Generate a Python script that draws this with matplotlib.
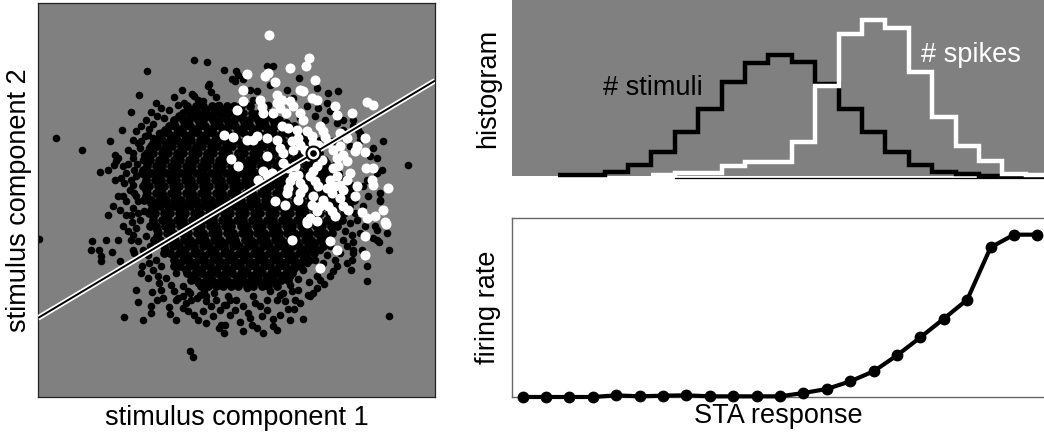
import matplotlib
matplotlib.use("Agg")
import matplotlib.pyplot as plt

plt.rcParams['font.family'] = ['Liberation Sans', 'DejaVu Sans']

# ---------------- scatter data (stimulus component 1 / 2, arbitrary units) -------------
# dense core of the black cloud, one row per component-2 value
black_core_rows = {
    280: [-137, -110, -90, -64, -45, -18, 4, 24, 50],
    260: [-150, -131, -104, -87, -58, -40, -12, 10, 29, 55, 76, 99],
    240: [-177, -151, -133, -106, -89, -61, -43, -17, 3, 29, 48, 74, 93, 120, 136],
    220: [-193, -174, -148, -130, -102, -85, -58, -39, -14, 6, 33, 50, 77, 96, 123, 141, 168, 182],
    200: [-214, -196, -168, -150, -124, -105, -79, -60, -33, -15, 11, 31, 57, 74, 102, 120, 147, 165, 192],
    180: [-233, -214, -188, -169, -143, -125, -98, -80, -53, -34, -8, 11, 37, 55, 82, 101, 128, 146, 172, 191, 217],
    160: [-246, -228, -201, -182, -157, -138, -111, -92, -66, -48, -21, -2, 24, 43, 69, 88, 114, 133, 159, 178, 204, 223, 242],
    140: [-258, -239, -212, -194, -168, -149, -123, -104, -78, -59, -32, -14, 13, 31, 58, 76, 103, 121, 148, 166, 193, 211, 238, 256],
    120: [-248, -222, -203, -177, -158, -132, -113, -87, -68, -42, -23, 3, 22, 48, 67, 93, 112, 138, 157, 183, 202, 228, 247, 273],
    100: [-259, -232, -214, -187, -169, -142, -124, -97, -79, -52, -34, -7, 11, 38, 56, 83, 101, 128, 146, 173, 191, 218, 236, 263, 281, 302],
    80: [-272, -246, -227, -201, -182, -156, -137, -111, -92, -66, -47, -21, -2, 24, 43, 69, 88, 114, 133, 159, 178, 204, 223, 249, 268, 294, 313],
    60: [-260, -234, -215, -189, -170, -144, -125, -99, -80, -54, -35, -9, 10, 36, 55, 81, 100, 126, 145, 171, 190, 216, 235, 261, 280, 306, 325, 342],
    40: [-270, -251, -225, -206, -180, -161, -135, -116, -90, -71, -45, -26, 0, 19, 45, 64, 90, 109, 135, 154, 180, 199, 225, 244, 270, 289, 315, 334, 352],
    20: [-258, -231, -213, -186, -168, -141, -123, -96, -78, -51, -33, -6, 12, 39, 57, 84, 102, 129, 147, 174, 192, 219, 237, 264, 282, 309, 327, 354],
    0: [-266, -247, -221, -202, -176, -157, -131, -112, -86, -67, -41, -22, 4, 23, 49, 68, 94, 113, 139, 158, 184, 203, 229, 248, 274, 293, 319, 338, 362],
    -20: [-238, -219, -193, -174, -148, -129, -103, -84, -58, -39, -13, 6, 32, 51, 77, 96, 122, 141, 167, 186, 212, 231, 257, 276, 302, 321, 347],
    -40: [-253, -235, -208, -190, -163, -145, -118, -100, -73, -55, -28, -10, 17, 35, 62, 80, 107, 125, 152, 170, 197, 215, 242, 260, 287, 305, 332],
    -60: [-240, -213, -195, -168, -150, -123, -105, -78, -60, -33, -15, 12, 30, 57, 75, 102, 120, 147, 165, 192, 210, 237, 255, 282, 300, 327],
    -80: [-248, -230, -203, -185, -158, -140, -113, -95, -68, -50, -23, -5, 22, 40, 67, 85, 112, 130, 157, 175, 202, 220, 247, 265, 292, 310],
    -100: [-224, -198, -179, -153, -134, -108, -89, -63, -44, -18, 1, 27, 46, 72, 91, 117, 136, 162, 181, 207, 226, 252, 271, 297],
    -120: [-236, -218, -191, -173, -146, -128, -101, -83, -56, -38, -11, 7, 34, 52, 79, 97, 124, 142, 169, 187, 214, 232, 259, 277],
    -140: [-207, -181, -162, -136, -117, -91, -72, -46, -27, -1, 18, 44, 63, 89, 108, 134, 153, 179, 198, 224, 243, 269],
    -160: [-208, -190, -163, -145, -118, -100, -73, -55, -28, -10, 17, 35, 62, 80, 107, 125, 152, 170, 197, 215, 242],
    -180: [-177, -151, -132, -106, -87, -61, -42, -16, 3, 29, 48, 74, 93, 119, 138, 164, 183, 209, 228],
    -200: [-178, -160, -133, -115, -88, -70, -43, -25, 2, 20, 47, 65, 92, 110, 137, 155, 182, 200],
    -220: [-139, -113, -94, -68, -49, -23, -4, 22, 41, 67, 86, 112, 131, 157, 176],
    -240: [-126, -107, -81, -62, -36, -17, 9, 28, 54, 73, 99, 118, 144, 163],
    -260: [-95, -76, -50, -31, -5, 14, 40, 59, 85, 104, 130],
}

# in-between rows of the dense core
black_core_rows_b = {
    270: [-122, -80, -27, 12],
    250: [-163, -115, -74, -22, 18, 66, 107],
    230: [-181, -143, -92, -50, 0, 40, 91, 132, 158],
    210: [-203, -155, -116, -67, -25, 24, 64, 114, 153, 184],
    190: [-219, -182, -131, -93, -41, -1, 49, 88, 140, 178, 207],
    170: [-241, -193, -153, -100, -62, -10, 30, 82, 121, 172, 210],
    150: [-247, -207, -157, -118, -66, -27, 25, 64, 115, 153, 204, 244],
    130: [-258, -207, -169, -117, -78, -27, 13, 65, 105, 154, 193, 243],
    110: [-259, -223, -172, -133, -81, -43, 9, 47, 98, 137, 188, 227, 278],
    90: [-271, -219, -181, -131, -91, -40, -1, 50, 88, 140, 179, 232, 270, 299],
    70: [-262, -223, -173, -134, -83, -44, 7, 45, 96, 136, 186, 225, 276, 315],
    50: [-265, -215, -176, -125, -86, -35, 4, 55, 94, 145, 184, 235, 274, 325],
    30: [-261, -223, -172, -133, -82, -43, 8, 47, 99, 138, 189, 228, 279, 318],
    10: [-260, -210, -171, -120, -81, -30, 9, 60, 99, 150, 189, 240, 279, 331],
    -10: [-247, -209, -158, -119, -68, -29, 22, 61, 112, 151, 202, 241, 292, 330],
    -30: [-247, -196, -157, -106, -67, -16, 23, 74, 113, 164, 203, 254, 293],
    -50: [-240, -201, -150, -111, -60, -21, 30, 69, 120, 159, 210, 249, 300],
    -70: [-241, -190, -151, -100, -61, -10, 29, 80, 119, 170, 209, 260, 299],
    -90: [-229, -190, -139, -100, -49, -10, 41, 80, 131, 170, 221, 260],
    -110: [-227, -176, -137, -86, -47, 4, 43, 94, 133, 184, 223, 274],
    -130: [-209, -170, -119, -80, -29, 10, 61, 100, 151, 190, 241],
    -150: [-203, -152, -113, -62, -23, 28, 67, 118, 157, 208, 237],
    -170: [-177, -138, -87, -48, 3, 42, 93, 132, 183, 217],
    -190: [-168, -117, -78, -27, 12, 63, 102, 153, 192],
    -210: [-142, -103, -52, -13, 38, 77, 128, 167],
    -230: [-123, -72, -33, 18, 57, 108, 147],
    -250: [-98, -47, -8, 43, 82, 128],
}

# sparser black points around the core
black_fringe = [
    (-116, 418), (-78, 412), (-26, 390), (9, 385), (-259, 387), (-4, 362), (-71, 348), (-76, 340),
    (-154, 330), (-283, 313), (-66, 322), (-124, 317), (-118, 310), (-176, 307), (-50, 307),
    (-106, 300), (-89, 295), (-166, 285), (-146, 290), (-41, 285), (-306, 263), (-191, 270),
    (-138, 262), (-206, 245), (-333, 209), (-370, 175), (-530, 186), (-454, 150), (-399, 83),
    (-376, 90), (-353, 135), (-346, 125), (-351, 115), (-358, 105), (-331, 100), (-316, 108),
    (-296, 90), (-286, 170), (-276, 175), (-256, 195), (-221, 200), (-253, 155), (-266, 135),
    (-289, 108), (-354, 60), (-336, 65), (-328, 50), (-346, 10), (-331, 10), (-296, 20),
    (-291, 10), (-361, -18), (-376, -45), (-321, -45), (-306, -45), (-286, -40), (-268, -35),
    (-303, -68), (-290, 70), (-300, 45), (-310, 30), (-285, -5), (-300, -25), (-280, -60),
    (-290, -85), (-581, -118), (-424, -125), (-426, -152), (-401, -152), (-396, -170),
    (-396, -185), (-381, -122), (-346, -120), (-363, -157), (-338, -185), (-326, -352),
    (-271, -362), (-306, -120), (-301, -150), (-296, -160), (-291, -270), (-284, -307),
    (-274, -200), (-276, -220), (-256, -235), (-244, -278), (-246, -320), (-246, -340),
    (-226, -230), (-221, -250), (-216, -270), (-228, -300), (-211, -295), (-191, -322),
    (-188, -343), (-166, -295), (-151, -325), (-136, -335), (-126, -300), (-116, -345),
    (-106, -360), (-108, -295), (-88, -273), (-128, -453), (-120, -472), (-41, -385),
    (-26, -400), (-36, -375), (-56, -280), (-51, -300), (-48, -255), (-26, -315), (-16, -290),
    (-251, -190), (-241, -210), (-231, -180), (-256, -165), (-216, -200), (-201, -235),
    (-186, -255), (-171, -220), (-151, -260), (-136, -275), (-106, -250), (-81, -305),
    (-66, -320), (-91, -335), (-176, -275),
    (468, -350), (402, -243), (467, -150), (438, -128), (353, -212), (355, -182), (305, -180),
    (360, -128), (395, -78), (335, -95), (355, -105), (340, -140), (260, -240), (272, -252),
    (228, -248), (250, -265), (240, -280), (230, -288), (210, -357), (225, -285), (195, -238),
    (182, -208), (170, -230), (170, -255), (175, -275), (195, -270), (155, -305), (165, -328),
    (182, -328), (170, -360), (120, -358), (140, -345), (130, -390), (120, -380), (70, -385),
    (55, -375), (20, -368), (-25, -375), (100, -300), (110, -275), (80, -320), (45, -340),
    (50, -355), (5, -330), (-20, -315), (-10, -300), (210, -210), (220, -190), (250, -230),
    (280, -165), (290, -140), (260, -150), (245, -180), (20, -250), (40, -265), (60, -290),
    (90, -250), (120, -235), (140, -285),
    (15, 375), (5, 355), (30, 362), (100, 402), (120, 400), (197, 365), (315, 327), (450, 177),
    (525, 103), (50, 330), (70, 325), (110, 345), (160, 330), (180, 305), (250, 335), (285, 320),
    (255, 275), (280, 290), (330, 240), (360, 240), (380, 195), (375, 210), (420, 155),
    (430, 125), (445, 90), (400, 60), (390, 40), (440, -5), (425, -80), (360, -150), (370, -60),
    (430, -120), (360, 220), (380, 200), (410, 130), (430, 80), (440, 0), (430, -90), (380, -100),
    (360, 0), (390, -20), (375, 40), (405, 10), (380, 180), (440, 20), (460, -100), (420, -115),
    (360, -160), (340, -190), (310, -200), (290, -230),
    (60, 300), (105, 285), (160, 300), (220, 280), (290, 265), (310, 230), (200, 245),
    (245, 250), (275, 240), (330, 210), (300, 175), (350, 160), (260, 180), (220, 160),
    (-230, 290), (-215, 275), (-245, 262), (-228, 250), (-262, 240), (-240, 228), (-275, 222),
    (-252, 212), (-290, 205), (-265, 190), (-240, 185), (-300, 180), (-280, 155), (-300, 140),
    (-315, 150), (-270, 120), (-300, 125), (-320, 80), (-305, 60), (-320, -5), (-340, -30),
    (-330, -80), (-315, -95), (-300, -105), (-285, -125), (-270, -150), (-260, -110),
    (-250, -140), (-170, -300), (-150, -290), (-130, -280), (-100, -285), (-80, -290),
    (-60, -350), (-40, -330), (-10, -345), (10, -300), (30, -320), (65, -310), (85, -350),
    (100, -330), (130, -300), (150, -280), (185, -300), (200, -310), (-140, -310), (-170, -360),
    (-80, -370), (90, -400), (30, -395), (270, -190), (300, -215), (320, -160), (330, -120),
    (350, -70), (365, -40), (385, -150), (400, -200),
]

# white points: stimuli that elicited a spike
white_points = [
    (107, 495), (227, 425), (218, 400), (245, 358), (40, 378), (28, 328), (12, 270), (28, 297),
    (80, 300), (95, 370), (105, 380), (125, 352), (132, 315), (145, 300), (130, 290), (170, 395),
    (200, 330), (210, 325), (235, 305), (250, 300), (200, 260), (210, 240), (140, 275), (85, 278),
    (90, 260), (120, 260), (170, 295), (180, 280), (157, 260), (145, 220), (165, 215), (190, 210),
    (195, 185), (220, 205), (235, 190), (260, 220), (270, 205), (275, 188), (285, 170), (305, 280),
    (310, 255), (355, 260), (400, 293), (420, 283), (320, 200), (340, 185), (370, 160), (365, 145),
    (320, 160), (330, 135), (340, 115), (300, 150), (310, 125), (395, 185), (395, 142), (397, 95),
    (420, 95), (415, 60), (420, 45), (465, 35), (450, -30), (455, -68), (400, -55), (425, -50),
    (387, -38), (345, -30), (330, -20), (320, 5), (330, 30), (340, 60), (350, 80), (370, 40),
    (365, 10), (310, 70), (320, 45), (280, 35), (295, 20), (270, 0), (260, -20), (250, -35),
    (230, -55), (220, -65), (285, -20), (295, -35), (305, -50), (255, 40), (245, 55), (240, 85),
    (250, 100), (265, 120), (230, 70), (195, 75), (200, 50), (210, 35), (200, 20), (195, 0),
    (165, 35), (160, 20), (125, -5), (155, -15), (170, 55), (180, 70), (115, 80), (100, 75),
    (90, 85), (75, 60), (100, 130), (60, 180), (70, 190), (40, 180), (0, 188), (-28, 195),
    (-5, 122), (15, 100), (140, 155), (150, 140), (130, 180), (100, 185), (175, -122),
    (260, -205), (395, -165), (395, -108), (310, -150), (290, -125), (457, -72), (220, -70),
    (250, -65), (175, 175), (200, 165), (215, 150), (180, 150), (240, 170), (255, 165),
    (225, 130), (150, 110), (165, 95), (185, 100), (235, -15), (240, 10), (300, 95), (315, 100),
    (290, 60), (305, 40),
]

# STA direction line and spike-triggered average point
sta_line_x = [-585, 605]
sta_line_y = [-355, 357]
sta_point = (240, 139)

# ---------------- histogram / nonlinearity data ----------------
sta_bins = [0, 1, 2, 3, 4, 5, 6, 7, 8, 9, 10, 11, 12, 13, 14, 15, 16, 17, 18, 19, 20, 21, 22]
stimulus_counts = [0, 0, 2, 4, 11, 32, 73, 132, 202, 282, 337, 362, 342, 275, 202, 132, 72, 32, 12, 5, 0, 0, 0]
spike_counts = [0, 0, 0, 0, 0, 0, 2, 10, 10, 31, 42, 42, 102, 270, 424, 467, 442, 312, 177, 90, 45, 7, 2]
firing_rate = [0, 0, 0, 0, 5, 2, 4, 5, 2, 2, 2, 2, 12, 24, 47, 77, 125, 179, 235, 292, 449, 487, 487]

GRAY = '#808080'
FS = 19.5

fig = plt.figure(figsize=(10.44, 4.32), dpi=100)
W, H = 1044.0, 432.0

# ---------------- left: scatter ----------------
ax1 = fig.add_axes([38 / W, 35 / H, 397 / W, 394 / H])
ax1.set_facecolor(GRAY)
cx, cy = [], []
for rows in (black_core_rows, black_core_rows_b):
    for yv, xs in rows.items():
        for xv in xs:
            cx.append(xv)
            cy.append(yv)
fx = [p[0] for p in black_fringe]
fy = [p[1] for p in black_fringe]
ax1.scatter(cx, cy, s=40, c='black', linewidths=0, zorder=2)
ax1.scatter(fx, fy, s=30, c='black', linewidths=0, zorder=2)
wx = [p[0] for p in white_points]
wy = [p[1] for p in white_points]
ax1.scatter(wx, wy, s=52, c='white', linewidths=0, zorder=3)
ax1.plot(sta_line_x, sta_line_y, color='white', lw=3.9, solid_capstyle='butt', zorder=4)
ax1.plot(sta_line_x, sta_line_y, color='black', lw=1.4, solid_capstyle='butt', zorder=5)
ax1.plot([sta_point[0]], [sta_point[1]], marker='o', ms=10.0, mfc='white', mec='black', mew=1.5, zorder=6)
ax1.plot([sta_point[0]], [sta_point[1]], marker='o', ms=4.8, mfc='black', mec='black', mew=0, zorder=7)
ax1.set_xlim(-585, 605)
ax1.set_ylim(-592, 590)
ax1.set_xticks([])
ax1.set_yticks([])
for sp in ax1.spines.values():
    sp.set_color('#222222')
    sp.set_linewidth(0.9)
ax1.set_xlabel('stimulus component 1', fontsize=FS, labelpad=6)
ax1.set_ylabel('stimulus component 2', fontsize=FS, labelpad=4)

# ---------------- top right: histograms ----------------
ax2 = fig.add_axes([512 / W, (H - 176) / H, 532 / W, 176 / H])
ax2.set_facecolor(GRAY)
xmin, xmax = -0.453, 22.28
ax2.set_xlim(xmin, xmax)
ax2.set_ylim(0, 527)
stim_edges = [b - 0.5 for b in sta_bins[2:]] + [sta_bins[-1] + 0.5]
ax2.stairs(stimulus_counts[2:], stim_edges, baseline=None, color='black', lw=3.2, clip_on=False, zorder=3)
spike_edges = [b - 0.5 for b in sta_bins[6:]] + [sta_bins[-1] + 0.5]
ax2.stairs(spike_counts[6:], spike_edges, baseline=None, color='white', lw=3.2, clip_on=False, zorder=4)
ax2.set_xticks([])
ax2.set_yticks([])
for side in ['left', 'top', 'right']:
    ax2.spines[side].set_visible(False)
ax2.spines['bottom'].set_bounds(6.5, xmax)
ax2.spines['bottom'].set_color('black')
ax2.spines['bottom'].set_linewidth(0.9)
ax2.spines['bottom'].set_position(('outward', 1.5))
ax2.text(3.44, 243, '# stimuli', fontsize=FS, color='black', ha='left', va='baseline')
ax2.text(17.01, 342, '# spikes', fontsize=FS, color='white', ha='left', va='baseline')
ax2.set_ylabel('histogram', fontsize=FS, labelpad=8)

# ---------------- bottom right: firing rate ----------------
ax3 = fig.add_axes([512 / W, 35 / H, 532 / W, 179 / H])
ax3.set_xlim(xmin, xmax)
ax3.set_ylim(0, 537)
ax3.plot(sta_bins, firing_rate, '-o', color='black', lw=3.0, ms=7.5, clip_on=False, zorder=3)
ax3.set_xticks([])
ax3.set_yticks([])
ax3.spines['right'].set_visible(False)
for side in ['left', 'top', 'bottom']:
    ax3.spines[side].set_color('#666666')
    ax3.spines[side].set_linewidth(1.0)
ax3.set_xlabel('STA response', fontsize=FS, labelpad=4)
ax3.set_ylabel('firing rate', fontsize=FS, labelpad=8)

fig.savefig('out.png', dpi=100, facecolor='white')
